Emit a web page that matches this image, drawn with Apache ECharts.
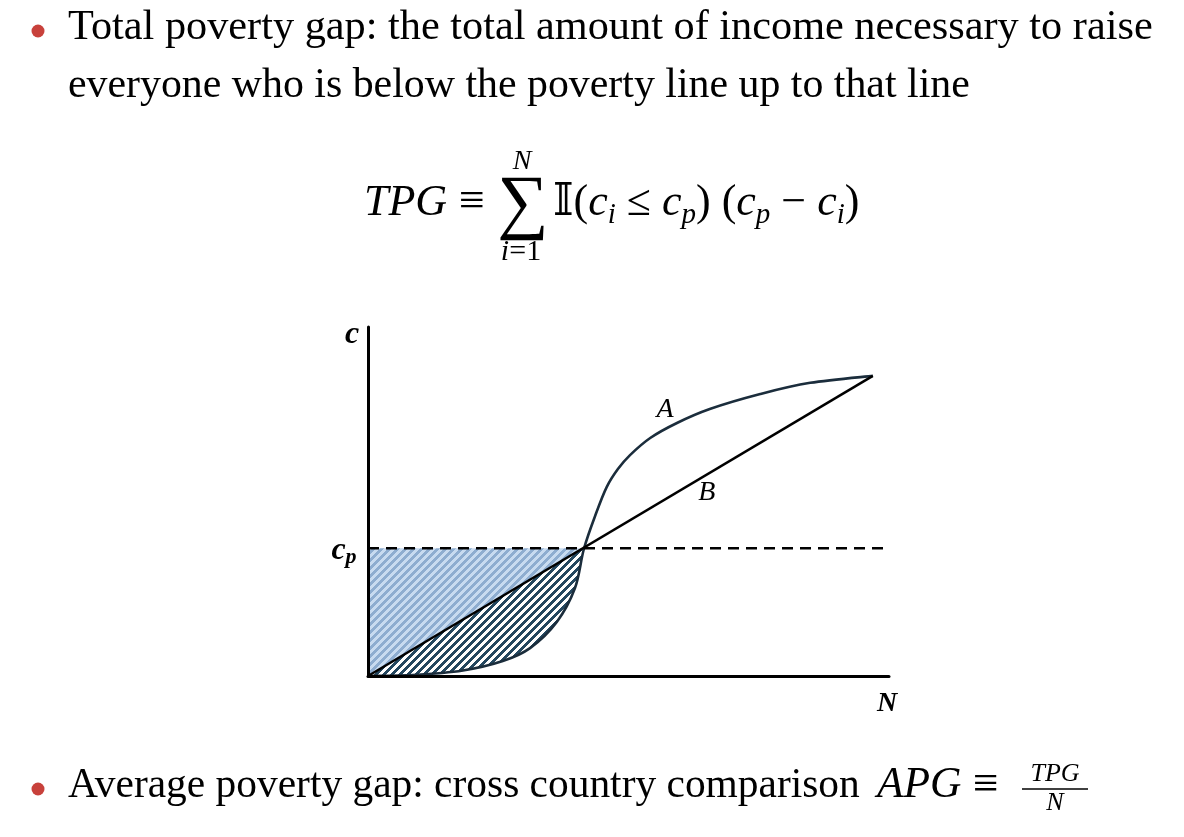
<!DOCTYPE html>
<html><head><meta charset="utf-8">
<script src="https://cdn.jsdelivr.net/npm/echarts@6/dist/echarts.min.js"></script>
<style>html,body{margin:0;padding:0;background:#fff}#c{width:1184px;height:837px}</style>
</head><body><div id="c"></div>
<script>
// ---- data ----
const povertyLine = 36.6;          // c_p
const crossX = 42.8;               // where A and B cross the poverty line
const curveAX = [0, 8.9, 18.8, 26.7, 32.1, 37.4, 41.0, 42.8, 45.2, 47.3, 49.5, 51.9, 55.9, 61.2, 67.7, 77.7, 87.6, 100];
const curveAY = [0, 0.3, 1.6, 4.3, 8.0, 15.5, 25.2, 36.6, 46.7, 54.2, 59.3, 63.3, 68.2, 72.5, 76.5, 80.8, 84.0, 86.0];
const lineBX = [0, 100];
const lineBY = [0, 86.0];
const xMax = 103.2, yMax = 100;
const line1 = 'Total poverty gap: the total amount of income necessary to raise';
const line2 = 'everyone who is below the poverty line up to that line';
const line3 = 'Average poverty gap: cross country comparison';

// ---- helpers ----
function hatch(bg, fg, n, w) {
  const c = document.createElement('canvas'); c.width = n; c.height = n;
  const ctx = c.getContext('2d'); const img = ctx.createImageData(n, n);
  const p = h => [parseInt(h.substr(1,2),16), parseInt(h.substr(3,2),16), parseInt(h.substr(5,2),16)];
  const B = p(bg), F = p(fg);
  for (let y = 0; y < n; y++) for (let x = 0; x < n; x++) {
    const k = (x + y) % n; const col = k < w ? F : B; const i = (y*n + x)*4;
    img.data[i] = col[0]; img.data[i+1] = col[1]; img.data[i+2] = col[2]; img.data[i+3] = 255;
  }
  ctx.putImageData(img, 0, 0); return c;
}
const blueHatch = {image: hatch('#c8dbf0', '#8eadd0', 8, 4), repeat: 'repeat'};
const darkHatch = {image: hatch('#ffffff', '#24475f', 8, 4), repeat: 'repeat'};

const SERIF = '"Liberation Serif", "DejaVu Serif", serif';
const mctx = document.createElement('canvas').getContext('2d');
mctx.font = '100px ' + SERIF;
const fitSize = (t, w) => 100 * w / mctx.measureText(t).width;
const fs1 = fitSize(line1, 1085), fs2 = fitSize(line2, 902), fs3 = fitSize(line3, 792);

const A = curveAX.map((x, i) => [x, curveAY[i]]);
const maskEnd = curveAX.findIndex(x => x > crossX);   // mask runs one point past the crossing
const B = lineBX.map((x, i) => [x, lineBY[i]]);

// smooth (Catmull-Rom) path through pixel points, first nSeg segments
function crPath(pts, nSeg) {
  let d = 'M' + pts[0][0] + ',' + pts[0][1];
  for (let i = 0; i < nSeg; i++) {
    const p0 = pts[Math.max(i - 1, 0)], p1 = pts[i], p2 = pts[i + 1], p3 = pts[Math.min(i + 2, pts.length - 1)];
    const c1 = [p1[0] + (p2[0] - p0[0]) / 6, p1[1] + (p2[1] - p0[1]) / 6];
    const c2 = [p2[0] - (p3[0] - p1[0]) / 6, p2[1] - (p3[1] - p1[1]) / 6];
    d += ' C' + c1[0] + ',' + c1[1] + ' ' + c2[0] + ',' + c2[1] + ' ' + p2[0] + ',' + p2[1];
  }
  return d;
}
function curveRender(mask) {
  return function (params, api) {
    if (params.dataIndex !== 0) return null;
    const pts = A.map(p => api.coord(p));
    if (mask) {
      const e = api.coord([curveAX[maskEnd], 0]), o = api.coord([0, 0]);
      return {type: 'path', shape: {pathData: crPath(pts, maskEnd) + ' L' + e[0] + ',' + e[1] + ' L' + o[0] + ',' + o[1] + ' Z'},
              style: {fill: '#ffffff', stroke: null}};
    }
    return {type: 'path', shape: {pathData: crPath(pts, pts.length - 1)},
            style: {fill: null, stroke: '#1b2d3c', lineWidth: 2.6}};
  };
}

const chart = echarts.init(document.getElementById('c'), null, {renderer: 'canvas'});
const lblBase = {show: true, position: 'inside', color: '#000', opacity: 1, fontFamily: SERIF, fontStyle: 'italic'};
chart.setOption({
  animation: false,
  grid: {left: 368, right: 295, top: 327, bottom: 161},
  xAxis: {type: 'value', min: 0, max: xMax, z: 10,
    axisLine: {show: true, onZero: false, lineStyle: {color: '#000', width: 3}},
    axisTick: {show: false}, axisLabel: {show: false}, splitLine: {show: false}},
  yAxis: {type: 'value', min: 0, max: yMax, z: 10,
    axisLine: {show: true, onZero: false, lineStyle: {color: '#000', width: 3}},
    axisTick: {show: false}, axisLabel: {show: false}, splitLine: {show: false}},
  series: [
    {type: 'line', z: 1, symbol: 'none', data: [[0, povertyLine], [crossX, povertyLine]],
     lineStyle: {width: 0}, areaStyle: {color: blueHatch, opacity: 1}},
    {type: 'line', z: 2, symbol: 'none', data: [[0, 0], [crossX, povertyLine]],
     lineStyle: {width: 0}, areaStyle: {color: darkHatch, opacity: 1}},
    {type: 'custom', z: 3, silent: true, data: A, encode: {x: 0, y: 1}, renderItem: curveRender(true)},
    {type: 'custom', z: 4, silent: true, data: A, encode: {x: 0, y: 1}, renderItem: curveRender(false)},
    {type: 'line', z: 4, symbol: 'none', data: B,
     lineStyle: {color: '#000', width: 2.5}},
    {type: 'line', z: 5, symbol: 'none', data: [[0, povertyLine], [xMax, povertyLine]],
     lineStyle: {color: '#000', width: 2.5, type: [11, 7]}},
    {type: 'scatter', z: 6, symbolSize: 0, silent: true, itemStyle: {opacity: 1},
     data: [
       {value: [0, yMax], label: Object.assign({}, lblBase, {formatter: 'c', fontSize: 32, fontWeight: 'bold', offset: [-16, 8]})},
       {value: [xMax, 0], label: Object.assign({}, lblBase, {formatter: 'N', fontSize: 28, fontWeight: 'bold', offset: [-2, 28]})},
       {value: [0, povertyLine], label: Object.assign({}, lblBase, {formatter: '{c|c}{p|p}', offset: [-24, 2],
          rich: {c: {fontSize: 32, fontWeight: 'bold', fontStyle: 'italic', fontFamily: SERIF, color: '#000', lineHeight: 36, verticalAlign: 'middle'},
                 p: {fontSize: 22, fontWeight: 'bold', fontStyle: 'italic', fontFamily: SERIF, color: '#000', lineHeight: 18, verticalAlign: 'bottom'}}})},
       {value: [curveAX[13], curveAY[13]], label: Object.assign({}, lblBase, {formatter: 'A', fontSize: 28, offset: [-12, -13]})},
       {value: [67.7, lineBY[1] * 0.677], label: Object.assign({}, lblBase, {formatter: 'B', fontSize: 28, offset: [-3, 20]})}
     ]}
  ],
  graphic: [
    {type: 'circle', shape: {cx: 38, cy: 31, r: 6.5}, style: {fill: '#c8413b'}},
    {type: 'circle', shape: {cx: 38, cy: 789, r: 6.5}, style: {fill: '#c8413b'}},
    {type: 'text', x: 68, y: 42 - 0.34 * fs1, style: {text: line1, fontSize: fs1, fontFamily: SERIF, fill: '#000', verticalAlign: 'middle'}},
    {type: 'text', x: 68, y: 100 - 0.34 * fs2, style: {text: line2, fontSize: fs2, fontFamily: SERIF, fill: '#000', verticalAlign: 'middle'}},
    {type: 'text', x: 68, y: 800 - 0.34 * fs3, style: {text: line3, fontSize: fs3, fontFamily: SERIF, fill: '#000', verticalAlign: 'middle'}},
    {type: 'text', x: 877, y: 800 - 0.34 * fs3, style: {text: 'APG', fontSize: fs3 + 2, fontStyle: 'italic', fontFamily: SERIF, fill: '#000', verticalAlign: 'middle'}},
    {type: 'text', x: 973, y: 800 - 0.34 * fs3, style: {text: '≡', fontSize: fs3 + 4, fontFamily: SERIF, fill: '#000', verticalAlign: 'middle'}},
    {type: 'text', x: 1055, y: 774, style: {text: 'TPG', fontSize: 26, fontStyle: 'italic', fontFamily: SERIF, fill: '#000', align: 'center', verticalAlign: 'middle'}},
    {type: 'line', shape: {x1: 1022, y1: 789, x2: 1088, y2: 789}, style: {stroke: '#000', lineWidth: 1.5}},
    {type: 'text', x: 1055, y: 803, style: {text: 'N', fontSize: 26, fontStyle: 'italic', fontFamily: SERIF, fill: '#000', align: 'center', verticalAlign: 'middle'}},
    // formula
    {type: 'text', x: 364, y: 203, style: {text: 'TPG', fontSize: 44, fontStyle: 'italic', fontFamily: SERIF, fill: '#000', verticalAlign: 'middle'}},
    {type: 'text', x: 459, y: 203, style: {text: '≡', fontSize: 46, fontFamily: SERIF, fill: '#000', verticalAlign: 'middle'}},
    {type: 'text', x: 523, y: 206, style: {text: '∑', fontSize: 72, fontFamily: SERIF, fill: '#000', align: 'center', verticalAlign: 'middle'}},
    {type: 'text', x: 522, y: 162, style: {text: 'N', fontSize: 28, fontStyle: 'italic', fontFamily: SERIF, fill: '#000', align: 'center', verticalAlign: 'middle'}},
    {type: 'text', x: 521, y: 252, style: {text: '{it|i}{n|=1}', fontSize: 30, fontFamily: SERIF, fill: '#000', align: 'center', verticalAlign: 'middle',
       rich: {it: {fontSize: 30, fontStyle: 'italic', fontFamily: SERIF}, n: {fontSize: 30, fontFamily: SERIF}}}},
    {type: 'text', x: 553, y: 203, style: {
       text: '{n|𝕀(}{i|c}{s|i}{n| ≤ }{i|c}{s|p}{n|) (}{i|c}{s|p}{n| − }{i|c}{s|i}{n|)}',
       verticalAlign: 'middle', fill: '#000',
       rich: {
         n: {fontSize: 44, fontFamily: SERIF, lineHeight: 54},
         i: {fontSize: 44, fontStyle: 'italic', fontFamily: SERIF, lineHeight: 54},
         s: {fontSize: 29, fontStyle: 'italic', fontFamily: SERIF, lineHeight: 28, verticalAlign: 'bottom'}
       }}}
  ]
});
</script></body></html>
